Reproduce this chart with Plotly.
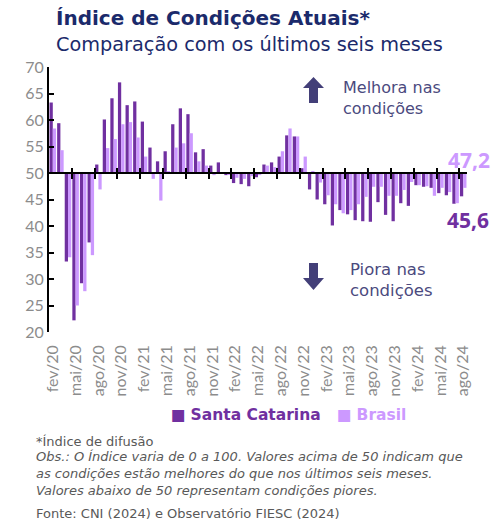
import plotly.graph_objects as go

# ---------------- data ----------------
months = ["fev/20", "mar/20", "abr/20", "mai/20", "jun/20", "jul/20", "ago/20", "set/20", "out/20", "nov/20", "dez/20",
          "jan/21", "fev/21", "mar/21", "abr/21", "mai/21", "jun/21", "jul/21", "ago/21", "set/21", "out/21", "nov/21", "dez/21",
          "jan/22", "fev/22", "mar/22", "abr/22", "mai/22", "jun/22", "jul/22", "ago/22", "set/22", "out/22", "nov/22", "dez/22",
          "jan/23", "fev/23", "mar/23", "abr/23", "mai/23", "jun/23", "jul/23", "ago/23", "set/23", "out/23", "nov/23", "dez/23",
          "jan/24", "fev/24", "mar/24", "abr/24", "mai/24", "jun/24", "jul/24", "ago/24"]

santa_catarina = [63.3, 59.4, 33.3, 22.2, 29.2, 36.9, 51.6, 60.1, 64.1, 67.1, 62.8,
                  63.5, 59.7, 54.8, 52.2, 54.1, 59.2, 62.2, 61.1, 53.9, 54.5, 51.4, 52.0,
                  49.6, 48.1, 47.9, 47.5, 49.2, 51.6, 52.0, 53.1, 57.1, 56.9, 50.9, 46.9,
                  45.0, 44.1, 40.1, 43.0, 42.2, 41.1, 40.9, 40.8, 44.5, 42.1, 40.9, 44.3,
                  43.8, 47.7, 47.4, 47.2, 46.2, 45.8, 44.2, 45.6]

brasil = [58.4, 54.3, 34.1, 25.0, 27.7, 34.5, 46.9, 54.7, 56.4, 59.2, 59.6,
          56.7, 53.1, 48.9, 44.8, 50.3, 54.8, 55.6, 57.5, 52.2, 51.4, 49.6, 50.1,
          49.7, 49.1, 48.9, 49.4, 49.6, 51.4, 51.1, 54.1, 58.4, 56.9, 53.1, 50.3,
          48.2, 45.8, 44.1, 42.4, 43.0, 44.1, 45.5, 47.4, 47.4, 45.7, 45.7, 46.8,
          48.3, 47.7, 47.5, 45.7, 47.2, 46.4, 44.3, 47.2]

series_names = ["Santa Catarina", "Brasil"]
baseline = 50
y_ticks = [20, 25, 30, 35, 40, 45, 50, 55, 60, 65, 70]
x_tick_labels = months[::3]

# ---------------- styling ----------------
SC_COLOR = "#7030A0"
BR_COLOR = "#CC99FF"
NAVY = "#1B2A6B"
TXT = "#4B4A7E"
GRAY = "#8C8C8C"
FOOT = "#595959"
FONT = "Lato"
TFONT = "DejaVu Sans"

# plot area in pixels (for decoration placement)
L, R, T, B = 49, 467, 67, 332
W, H = 496, 528


def px(xp):
    return (xp - L) / (R - L)


def py(yp):
    return (B - yp) / (B - T)


fig = go.Figure()

fig.add_trace(go.Bar(
    x=months, y=[v - baseline for v in santa_catarina], base=baseline,
    marker=dict(color=SC_COLOR, line=dict(width=0)), name=series_names[0], showlegend=False,
))
fig.add_trace(go.Bar(
    x=months, y=[v - baseline for v in brasil], base=baseline,
    marker=dict(color=BR_COLOR, line=dict(width=0)), name=series_names[1], showlegend=False,
))

# invisible helpers so the baseline axes (crossing ticks at 50) render
idx = list(range(len(months)))
for ax in ("x2", "x3"):
    fig.add_trace(go.Scatter(x=idx, y=santa_catarina, xaxis=ax, yaxis="y", mode="markers",
                             marker=dict(opacity=0), hoverinfo="skip", showlegend=False))

n = len(months)
boundary_ticks = [i - 0.5 for i in range(3, n, 3)]
base_pos = (baseline - y_ticks[0]) / (y_ticks[-1] - y_ticks[0])

fig.update_layout(
    width=W, height=H,
    margin=dict(l=L, r=W - R, t=T, b=H - B, autoexpand=False),
    paper_bgcolor="white", plot_bgcolor="white",
    barmode="group", bargap=0.14, bargroupgap=0,
    font=dict(family=FONT, color=GRAY),
    showlegend=False,
    xaxis=dict(type="category", range=[-0.5, n - 0.5], tickmode="array",
               tickvals=x_tick_labels, ticktext=x_tick_labels, tickangle=-90,
               ticks="", showline=False, showgrid=False, zeroline=False,
               tickfont=dict(size=16, color=GRAY, family=FONT), ticklabelstandoff=9),
    xaxis2=dict(overlaying="x", anchor="free", position=base_pos, type="linear",
                range=[-0.5, n - 0.5], tickmode="array", tickvals=boundary_ticks,
                ticks="outside", ticklen=5, tickwidth=2, tickcolor="black",
                showticklabels=False, showline=True, linecolor="black", linewidth=2,
                showgrid=False, zeroline=False),
    xaxis3=dict(overlaying="x", anchor="free", position=base_pos, type="linear",
                range=[-0.5, n - 0.5], tickmode="array", tickvals=boundary_ticks,
                ticks="inside", ticklen=5, tickwidth=2, tickcolor="black",
                showticklabels=False, showline=False,
                showgrid=False, zeroline=False),
    yaxis=dict(range=[y_ticks[0], y_ticks[-1]], tickmode="array", tickvals=y_ticks,
               ticks="inside", ticklen=5, tickwidth=2, tickcolor="black",
               showline=True, linecolor="black", linewidth=2,
               showgrid=False, zeroline=False,
               tickfont=dict(size=16, color=GRAY, family=FONT)),
)

ann = []
# title & subtitle
ann.append(dict(text="<b>Índice de Condições Atuais*</b>", x=px(54), y=py(18), xref="paper", yref="paper",
                xanchor="left", yanchor="middle", showarrow=False,
                font=dict(size=20, color=NAVY, family=TFONT)))
ann.append(dict(text="Comparação com os últimos seis meses", x=px(54), y=py(44), xref="paper", yref="paper",
                xanchor="left", yanchor="middle", showarrow=False,
                font=dict(size=19.3, color=NAVY, family=TFONT)))
# direction notes
ann.append(dict(text="Melhora nas<br>condições", x=px(341), y=py(98), xref="paper", yref="paper",
                xanchor="left", yanchor="middle", align="left", showarrow=False,
                font=dict(size=16, color=TXT, family=TFONT)))
ann.append(dict(text="Piora nas<br>condições", x=px(348), y=py(280), xref="paper", yref="paper",
                xanchor="left", yanchor="middle", align="left", showarrow=False,
                font=dict(size=16.5, color=TXT, family=TFONT)))
# last values
ann.append(dict(text=f"<b>{brasil[-1]:.1f}</b>".replace(".", ","), x=months[-1], y=brasil[-1],
                xref="x", yref="y", xanchor="center", yanchor="middle", xshift=6, yshift=28,
                showarrow=False, font=dict(size=21, color=BR_COLOR, family="Open Sans")))
ann.append(dict(text=f"<b>{santa_catarina[-1]:.1f}</b>".replace(".", ","), x=months[-1], y=santa_catarina[-1],
                xref="x", yref="y", xanchor="center", yanchor="middle", xshift=5, yshift=-24,
                showarrow=False, font=dict(size=21, color=SC_COLOR, family="Open Sans")))
# legend (drawn as text to keep the compact square + label layout)
ann.append(dict(text=f"■ <b>{series_names[0]}</b>", x=px(169), y=py(415), xref="paper", yref="paper",
                xanchor="left", yanchor="middle", showarrow=False,
                font=dict(size=15.5, color=SC_COLOR, family=TFONT)))
ann.append(dict(text=f"■ <b>{series_names[1]}</b>", x=px(335), y=py(415), xref="paper", yref="paper",
                xanchor="left", yanchor="middle", showarrow=False,
                font=dict(size=15.5, color=BR_COLOR, family=TFONT)))
# footer
ann.append(dict(text="*Índice de difusão", x=px(34), y=py(441), xref="paper", yref="paper",
                xanchor="left", yanchor="middle", showarrow=False,
                font=dict(size=13, color=FOOT, family=TFONT)))
ann.append(dict(text="<i>Obs.: O Índice varia de 0 a 100. Valores acima de 50 indicam que<br>"
                     "as condições estão melhores do que nos últimos seis meses.<br>"
                     "Valores abaixo de 50 representam condições piores.</i>",
                x=px(34), y=py(474), xref="paper", yref="paper",
                xanchor="left", yanchor="middle", align="left", showarrow=False,
                font=dict(size=13, color=FOOT, family=TFONT)))
ann.append(dict(text="Fonte: CNI (2024) e Observatório FIESC (2024)", x=px(34), y=py(513),
                xref="paper", yref="paper", xanchor="left", yanchor="middle", showarrow=False,
                font=dict(size=13, color=FOOT, family=TFONT)))
fig.update_layout(annotations=ann)


# block arrows (decoration)
def arrow_path(cx, tip, head_base, tail, head_half=10.5, shaft_half=4.5):
    pts = [(cx, tip), (cx + head_half, head_base), (cx + shaft_half, head_base),
           (cx + shaft_half, tail), (cx - shaft_half, tail), (cx - shaft_half, head_base),
           (cx - head_half, head_base)]
    return "M " + " L ".join(f"{px(a):.5f},{py(b):.5f}" for a, b in pts) + " Z"


ARROW = "#433F78"
fig.add_shape(type="path", xref="paper", yref="paper", path=arrow_path(313.5, 77, 88, 103),
              fillcolor=ARROW, line=dict(width=0))
fig.add_shape(type="path", xref="paper", yref="paper", path=arrow_path(313.5, 290, 278, 263),
              fillcolor=ARROW, line=dict(width=0))

fig.write_html("out.html", config={"displayModeBar": False},
               post_script="document.body.style.margin='0';document.body.style.overflow='hidden';")
